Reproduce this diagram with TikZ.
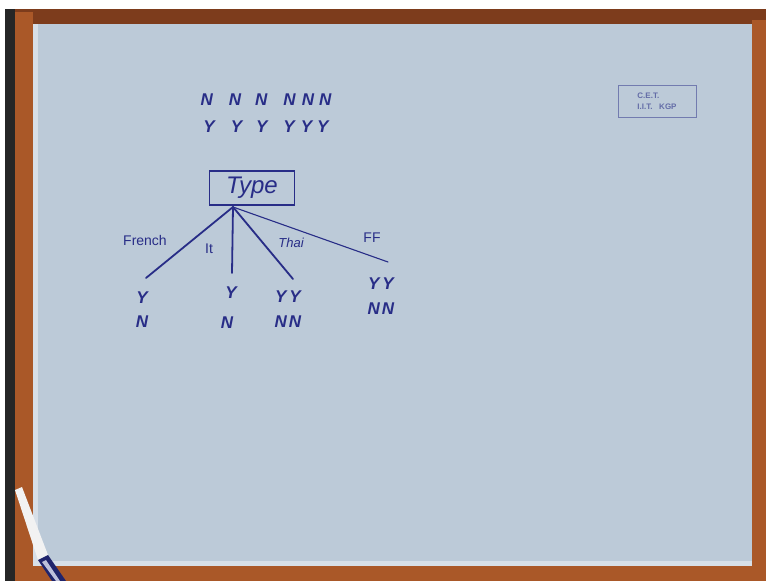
\documentclass[tikz,border=0pt]{standalone}
\usepackage{fontspec}
\setmainfont{Liberation Sans}
\definecolor{paper}{RGB}{188,202,216}
\definecolor{ink}{RGB}{40,45,135}
\definecolor{wood}{RGB}{170,88,40}
\definecolor{wooddark}{RGB}{125,60,28}
\tikzset{
  inktext/.style={text=ink, inner sep=1pt},
  hand/.style={inktext, font=\fontsize{17}{17}\selectfont\bfseries\itshape},
  lbl/.style={inktext, font=\fontsize{14}{14}\selectfont},
  branch/.style={draw=ink, line width=1.8pt, line cap=round}
}
\begin{document}
\begin{tikzpicture}[x=1pt,y=-1pt]
\useasboundingbox (0,0) rectangle (766,581);
% frame
\fill[white] (0,0) rectangle (766,581);
\fill[black!85] (5,9) rectangle (18,581);
\fill[wooddark] (15,9) rectangle (766,26);
\fill[wood] (15,12) rectangle (33,581);
\fill[wood] (752,20) rectangle (766,581);
\fill[wood] (15,565) rectangle (766,581);
\fill[paper] (33,24) rectangle (752,566);
\fill[white!40!paper] (33,24) rectangle (38,566);
\fill[white!40!paper] (33,561) rectangle (752,566);
% pen
\fill[white!90!gray] (15,490) -- (22,487) -- (48,555) -- (38,560) -- cycle;
\fill[ink!80!black] (38,560) -- (48,555) -- (66,581) -- (52,581) -- cycle;
\fill[white!70!ink] (42,562) -- (46,560) -- (60,581) -- (56,581) -- cycle;
% top counts
\node[hand] (nrow) at (266,100) {N\hspace{16pt}N\hspace{14pt}N\hspace{16pt}N\hspace{6pt}N\hspace{5pt}N};
\node[hand] (yrow) at (266,127) {Y\hspace{16pt}Y\hspace{14pt}Y\hspace{16pt}Y\hspace{6pt}Y\hspace{5pt}Y};
% root
\node[draw=ink, line width=1.6pt, minimum width=85pt, minimum height=34pt, text=ink,
      font=\fontsize{24}{24}\selectfont\itshape] (type) at (252,188) {Type};
\coordinate (root) at (233,207);
\coordinate (fr) at (146,278);
\coordinate (it) at (232,273);
\coordinate (th) at (293,279);
\coordinate (ff) at (388,262);
\draw[branch] (root) -- (fr);
\draw[branch] (root) -- (it);
\draw[branch] (root) -- (th);
\draw[branch, line width=1.1pt] (root) -- (ff);
% branch labels
\node[lbl] (lfr) at (145,240) {French};
\node[lbl] (lit) at (209,249) {It};
\node[lbl, font=\fontsize{13}{13}\selectfont\itshape] (lth) at (291,243) {Thai};
\node[lbl] (lff) at (372,238) {FF};
% leaves
\node[hand] (fy) at (142,298) {Y};
\node[hand] (fn) at (142,322) {N};
\node[hand] (iy) at (231,293) {Y};
\node[hand] (in) at (227,323) {N};
\node[hand] (ty) at (288,297) {Y\hspace{3pt}Y};
\node[hand] (tn) at (288,322) {N\hspace{2pt}N};
\node[hand] (gy) at (381,284) {Y\hspace{3pt}Y};
\node[hand] (gn) at (381,309) {N\hspace{2pt}N};
% stamp
\node[draw=ink!50!paper, line width=0.7pt, minimum width=78pt, minimum height=32pt] (stamp) at (657,101) {};
\node[text=ink!60!paper, font=\fontsize{8}{11}\selectfont\bfseries, align=left] (stamptext) at (657,101) {C.E.T.\\I.I.T.\ \ \ KGP};
\end{tikzpicture}
\end{document}
